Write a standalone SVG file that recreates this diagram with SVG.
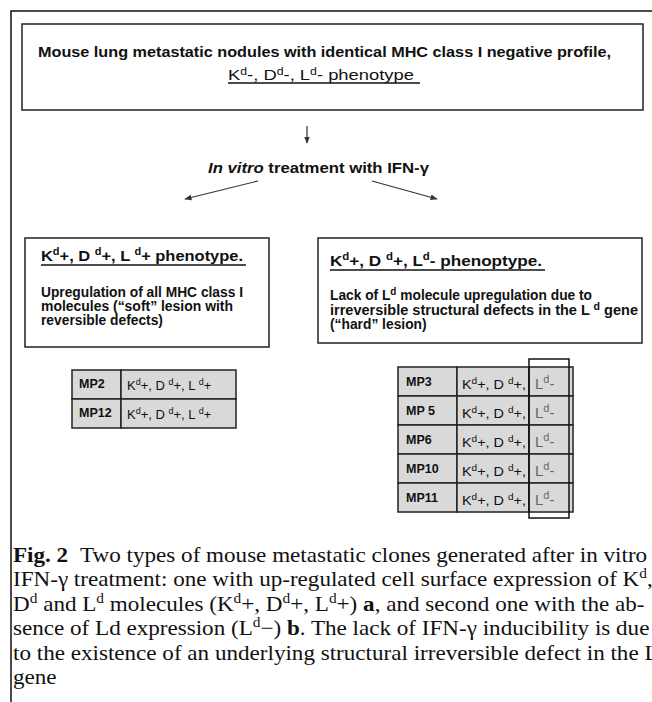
<svg xmlns="http://www.w3.org/2000/svg" width="652" height="702" viewBox="0 0 652 702">
<style>
  .b{font-family:"Liberation Sans",Arial,sans-serif;font-weight:bold;fill:#111}
  .r{font-family:"Liberation Sans",Arial,sans-serif;fill:#111}
  .box{fill:#fff;stroke:#222;stroke-width:1.5}
  .cell{fill:#d9d9d9;stroke:#222;stroke-width:1.5}
  .cap{font-family:"Liberation Serif","Times New Roman",serif;font-size:21px;fill:#111}
  .ln{stroke:#333;stroke-width:1.2;fill:none}
  .gray{fill:#666}
  .ul{stroke:#111;stroke-width:1.3}
</style>
<defs>
  <marker id="ah" viewBox="0 0 10 10" refX="9" refY="5" markerWidth="6" markerHeight="6" orient="auto">
    <path d="M0,1 L10,5 L0,9 z" fill="#333"/>
  </marker>
</defs>
<rect width="652" height="702" fill="#fff"/>
<path d="M11,702 V11 H652" fill="none" stroke="#111" stroke-width="1.5"/>

<g id="top">
  <rect class="box" x="22" y="24" width="621" height="86"/>
  <text class="b" x="38" y="57" font-size="15" textLength="573" lengthAdjust="spacingAndGlyphs">Mouse lung metastatic nodules with identical MHC class I negative profile,</text>
  <text class="r" x="228" y="80" font-size="15" textLength="186" lengthAdjust="spacingAndGlyphs">K<tspan font-size="10" dy="-5">d</tspan><tspan dy="5">-, D</tspan><tspan font-size="10" dy="-5">d</tspan><tspan dy="5">-, L</tspan><tspan font-size="10" dy="-5">d</tspan><tspan dy="5">-  phenotype</tspan></text>
  <line class="ul" x1="228" y1="83" x2="420" y2="83"/>
</g>

<g id="treatment">
  <text class="b" x="208" y="173" font-size="15" textLength="221" lengthAdjust="spacingAndGlyphs"><tspan font-style="italic">In vitro</tspan>  treatment with IFN-γ</text>
</g>

<g id="connectors">
  <line class="ln" x1="307" y1="126" x2="307" y2="143" marker-end="url(#ah)"/>
  <line class="ln" x1="258" y1="181" x2="185" y2="199" marker-end="url(#ah)"/>
  <line class="ln" x1="372" y1="181" x2="437" y2="199" marker-end="url(#ah)"/>
</g>

<g id="left-box">
  <rect class="box" x="25" y="238" width="244" height="109"/>
  <text class="b" x="41" y="261" font-size="15" textLength="202" lengthAdjust="spacingAndGlyphs">K<tspan font-size="10" dy="-6">d</tspan><tspan dy="6">+, D </tspan><tspan font-size="10" dy="-6">d</tspan><tspan dy="6">+, L </tspan><tspan font-size="10" dy="-6">d</tspan><tspan dy="6">+ phenotype.</tspan></text>
  <line class="ul" x1="41" y1="265" x2="246" y2="265"/>
  <text class="b" x="41" y="297" font-size="13.8" textLength="202" lengthAdjust="spacingAndGlyphs">Upregulation of all MHC class I</text>
  <text class="b" x="41" y="311" font-size="13.8" textLength="192" lengthAdjust="spacingAndGlyphs">molecules (“soft” lesion with</text>
  <text class="b" x="41" y="325" font-size="13.8">reversible defects)</text>
</g>

<g id="right-box">
  <rect class="box" x="318" y="238" width="324" height="105"/>
  <text class="b" x="330" y="266" font-size="15" textLength="212" lengthAdjust="spacingAndGlyphs">K<tspan font-size="10" dy="-6">d</tspan><tspan dy="6">+, D </tspan><tspan font-size="10" dy="-6">d</tspan><tspan dy="6">+,  L</tspan><tspan font-size="10" dy="-6">d</tspan><tspan dy="6">-   phenoptype.</tspan></text>
  <line class="ul" x1="330" y1="270" x2="545" y2="270"/>
  <text class="b" x="330" y="300" font-size="13.8" textLength="262" lengthAdjust="spacingAndGlyphs">Lack of L<tspan font-size="10" dy="-5">d</tspan><tspan dy="5"> molecule upregulation due to</tspan></text>
  <text class="b" x="330" y="315" font-size="13.8" textLength="308" lengthAdjust="spacingAndGlyphs">irreversible structural defects in the L    <tspan font-size="10" dy="-5">d</tspan><tspan dy="5"> gene</tspan></text>
  <text class="b" x="330" y="329" font-size="13.8">(“hard” lesion)</text>
</g>

<g id="left-table">
  <rect class="cell" x="72" y="370" width="49" height="29"/>
  <rect class="cell" x="121" y="370" width="115" height="29"/>
  <rect class="cell" x="72" y="399" width="49" height="29"/>
  <rect class="cell" x="121" y="399" width="115" height="29"/>
  <text class="b" x="79" y="388" font-size="12.5">MP2</text>
  <text class="r" x="127" y="390" font-size="13">K<tspan font-size="9" dy="-5">d</tspan><tspan dy="5">+, D </tspan><tspan font-size="9" dy="-5">d</tspan><tspan dy="5">+, L </tspan><tspan font-size="9" dy="-5">d</tspan><tspan dy="5">+</tspan></text>
  <text class="b" x="79" y="417" font-size="12.5">MP12</text>
  <text class="r" x="127" y="419" font-size="13">K<tspan font-size="9" dy="-5">d</tspan><tspan dy="5">+, D </tspan><tspan font-size="9" dy="-5">d</tspan><tspan dy="5">+, L </tspan><tspan font-size="9" dy="-5">d</tspan><tspan dy="5">+</tspan></text>
</g>

<g id="right-table">
  <g>
    <rect class="cell" x="398" y="367" width="59" height="29"/>
    <rect class="cell" x="457" y="367" width="72" height="29"/>
    <rect class="cell" x="529" y="367" width="44" height="29"/>
    <rect class="cell" x="398" y="396" width="59" height="29"/>
    <rect class="cell" x="457" y="396" width="72" height="29"/>
    <rect class="cell" x="529" y="396" width="44" height="29"/>
    <rect class="cell" x="398" y="425" width="59" height="29"/>
    <rect class="cell" x="457" y="425" width="72" height="29"/>
    <rect class="cell" x="529" y="425" width="44" height="29"/>
    <rect class="cell" x="398" y="454" width="59" height="29"/>
    <rect class="cell" x="457" y="454" width="72" height="29"/>
    <rect class="cell" x="529" y="454" width="44" height="29"/>
    <rect class="cell" x="398" y="483" width="59" height="29"/>
    <rect class="cell" x="457" y="483" width="72" height="29"/>
    <rect class="cell" x="529" y="483" width="44" height="29"/>
  </g>
  <rect x="529" y="359" width="40" height="159" fill="none" stroke="#111" stroke-width="1.5"/>
  <g class="b" font-size="12.5">
    <text x="406" y="386">MP3</text>
    <text x="406" y="415">MP 5</text>
    <text x="406" y="444">MP6</text>
    <text x="406" y="473">MP10</text>
    <text x="406" y="502">MP11</text>
  </g>
  <g class="r" font-size="13">
    <text x="462" y="389" textLength="64" lengthAdjust="spacingAndGlyphs">K<tspan font-size="9" dy="-5">d</tspan><tspan dy="5">+, D </tspan><tspan font-size="9" dy="-5">d</tspan><tspan dy="5">+,</tspan></text>
    <text x="462" y="418" textLength="64" lengthAdjust="spacingAndGlyphs">K<tspan font-size="9" dy="-5">d</tspan><tspan dy="5">+, D </tspan><tspan font-size="9" dy="-5">d</tspan><tspan dy="5">+,</tspan></text>
    <text x="462" y="447" textLength="64" lengthAdjust="spacingAndGlyphs">K<tspan font-size="9" dy="-5">d</tspan><tspan dy="5">+, D </tspan><tspan font-size="9" dy="-5">d</tspan><tspan dy="5">+,</tspan></text>
    <text x="462" y="476" textLength="64" lengthAdjust="spacingAndGlyphs">K<tspan font-size="9" dy="-5">d</tspan><tspan dy="5">+, D </tspan><tspan font-size="9" dy="-5">d</tspan><tspan dy="5">+,</tspan></text>
    <text x="462" y="505" textLength="64" lengthAdjust="spacingAndGlyphs">K<tspan font-size="9" dy="-5">d</tspan><tspan dy="5">+, D </tspan><tspan font-size="9" dy="-5">d</tspan><tspan dy="5">+,</tspan></text>
  </g>
  <g class="r gray" font-size="15">
    <text x="535" y="389">L<tspan font-size="11" dy="-6">d</tspan><tspan dy="6">-</tspan></text>
    <text x="535" y="418">L<tspan font-size="11" dy="-6">d</tspan><tspan dy="6">-</tspan></text>
    <text x="535" y="447">L<tspan font-size="11" dy="-6">d</tspan><tspan dy="6">-</tspan></text>
    <text x="535" y="476">L<tspan font-size="11" dy="-6">d</tspan><tspan dy="6">-</tspan></text>
    <text x="535" y="505">L<tspan font-size="11" dy="-6">d</tspan><tspan dy="6">-</tspan></text>
  </g>
</g>

<g id="caption" class="cap" transform="translate(13,0) scale(1.1,1) translate(-13,0)">
  <text x="13" y="562"><tspan font-weight="bold">Fig. 2</tspan><tspan dx="6">  Two types of mouse metastatic clones generated after in vitro</tspan></text>
  <text x="13" y="586">IFN-γ treatment: one with up-regulated cell surface expression of K<tspan font-size="14" dy="-8">d</tspan><tspan dy="8">,</tspan></text>
  <text x="13" y="611">D<tspan font-size="14" dy="-8">d</tspan><tspan dy="8"> and L</tspan><tspan font-size="14" dy="-8">d</tspan><tspan dy="8"> molecules (K</tspan><tspan font-size="14" dy="-8">d</tspan><tspan dy="8">+, D</tspan><tspan font-size="14" dy="-8">d</tspan><tspan dy="8">+, L</tspan><tspan font-size="14" dy="-8">d</tspan><tspan dy="8">+) </tspan><tspan font-weight="bold">a</tspan>, and second one with the ab-</text>
  <text x="13" y="635">sence of Ld expression (L<tspan font-size="14" dy="-8">d</tspan><tspan dy="8">−) </tspan><tspan font-weight="bold">b</tspan>. The lack of IFN-γ inducibility is due</text>
  <text x="13" y="660">to the existence of an underlying structural irreversible defect in the L<tspan font-size="14" dy="-8">d</tspan></text>
  <text x="13" y="684">gene</text>
</g>
</svg>
